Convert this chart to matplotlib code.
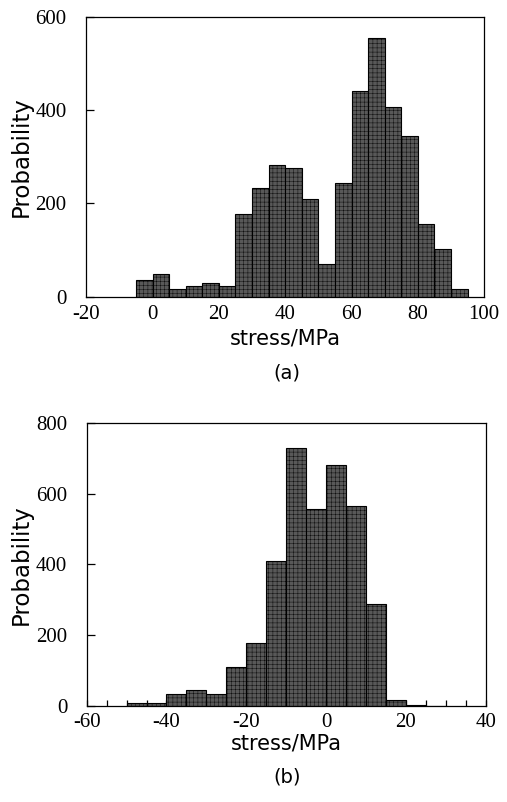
import numpy as np
import matplotlib
matplotlib.use("Agg")
import matplotlib.pyplot as plt
from matplotlib.ticker import MultipleLocator

# (a) histogram, 5 MPa bins
a_edges = np.arange(-5, 100, 5)
a_counts = [36, 49, 17, 24, 29, 23, 177, 234, 283, 275, 210, 70,
            244, 442, 554, 407, 345, 156, 103, 17]

# (b) histogram, 5 MPa bins
b_edges = np.arange(-50, 35, 5)
b_counts = [8, 8, 33, 46, 35, 110, 177, 409, 728, 556, 681, 564, 287,
            16, 2, 0]

a_xticks = [-20, 0, 20, 40, 60, 80, 100]
a_yticks = [0, 200, 400, 600]
b_xticks = [-60, -40, -20, 0, 20, 40]
b_yticks = [0, 200, 400, 600, 800]

BAR = "#585858"
SERIF = "Liberation Serif"
SANS = "DejaVu Sans"

plt.rcParams["axes.unicode_minus"] = False
plt.rcParams["hatch.color"] = "#363636"
plt.rcParams["hatch.linewidth"] = 0.3


def draw_hist(ax, edges, counts, xlim, ylim, xticks, yticks, minor_x):
    ax.bar(edges[:-1], counts, width=5, align="edge", color=BAR,
           edgecolor="black", linewidth=0.8, hatch="++++")
    ax.set_xlim(*xlim)
    ax.set_ylim(*ylim)
    ax.set_xticks(xticks)
    ax.set_yticks(yticks)
    for lab in ax.get_xticklabels() + ax.get_yticklabels():
        lab.set_fontfamily(SERIF)
        lab.set_fontsize(15)
    ax.tick_params(axis="y", direction="in", length=6, width=0.9, pad=14)
    if minor_x:
        ax.xaxis.set_minor_locator(MultipleLocator(5))
        ax.tick_params(axis="x", which="both", direction="in", length=4,
                       width=0.9, pad=5)
    else:
        ax.tick_params(axis="x", length=0, pad=6)
    for s in ax.spines.values():
        s.set_linewidth(0.9)
    ax.set_ylabel("Probability", family=SANS, fontsize=16.5, labelpad=2)


fig = plt.figure(figsize=(5.07, 8.02), dpi=100)

ax1 = fig.add_axes([0.170, 0.630, 0.785, 0.349])
draw_hist(ax1, a_edges, a_counts, (-20, 100), (0, 600), a_xticks, a_yticks, False)
ax1.set_xlabel("stress/MPa", family=SANS, fontsize=15, labelpad=3)
fig.text(0.566, 0.535, "(a)", family=SANS, fontsize=14, ha="center", va="center")

ax2 = fig.add_axes([0.171, 0.1197, 0.787, 0.353])
draw_hist(ax2, b_edges, b_counts, (-60, 40), (0, 800), b_xticks, b_yticks, True)
ax2.set_xlabel("stress/MPa", family=SANS, fontsize=15, labelpad=1)
fig.text(0.566, 0.031, "(b)", family=SANS, fontsize=14, ha="center", va="center")

fig.savefig("out.png", dpi=100)
